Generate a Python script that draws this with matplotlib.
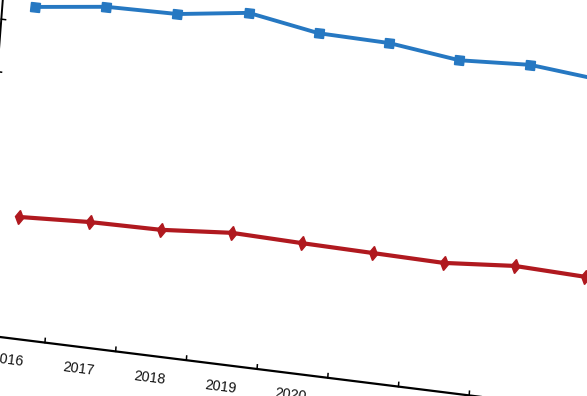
import numpy as np
import matplotlib
matplotlib.use('Agg')
import matplotlib.pyplot as plt
from matplotlib.transforms import Affine2D
from matplotlib.markers import MarkerStyle

years = ['2016', '2017', '2018', '2019', '2020', '2021', '2022', '2023', '2024']
upper_series = [63.1, 64.8, 65.1, 67.0, 64.8, 64.6, 63.0, 63.8, 62.6]
lower_series = [23.1, 23.8, 24.0, 25.1, 24.8, 24.6, 24.4, 25.5, 25.1]
y_ticks = [0, 10, 20, 30, 40, 50, 60]

W, H = 587, 396
fig = plt.figure(figsize=(W / 100, H / 100), dpi=100)
ax = fig.add_axes([0, 0, 1, 1])
ax.set_xlim(0, W)
ax.set_ylim(H, 0)
ax.axis('off')

# the chart is photographed at a slant: map (category index, value) onto the page
tilt = np.array([[70.7, 0.404, 9.6],
                 [8.8, -5.25, 338.2],
                 [0.0, 0.0, 1.0]])
T = Affine2D(tilt) + ax.transData

idx = np.arange(len(years))
x_left, x_right = -0.46, len(years) - 0.5

# axes lines
ax.plot([x_left, x_right], [0, 0], color='black', lw=1.6, transform=T, solid_capstyle='butt')
ax.plot([x_left, x_left], [0, 72], color='black', lw=1.4, transform=T, solid_capstyle='butt')

# x ticks sit between the categories, pointing up
for k in np.arange(0.5, len(years) - 0.5, 1.0):
    ax.plot([k, k], [0, 0.8], color='black', lw=1.1, transform=T)
for yt in y_ticks:
    ax.plot([x_left, x_left + 0.06], [yt, yt], color='black', lw=1.1, transform=T)

# category labels
for i, lab in zip(idx, years):
    ax.text(i, -4.2, lab, transform=T, ha='center', va='center', rotation=-7.1,
            rotation_mode='anchor', fontsize=10.3, family='Liberation Sans', color='#111111')

sq = MarkerStyle('s', transform=Affine2D().rotate_deg(-7))
dm = MarkerStyle('d', transform=Affine2D().rotate_deg(-7))

ax.plot(idx, upper_series, color='#2678c2', lw=2.8, marker=sq, ms=7,
        transform=T, zorder=3)
ax.plot(idx, lower_series, color='#b0191f', lw=3.0, marker=dm, ms=7.5,
        transform=T, zorder=3)

fig.savefig('out.png', dpi=100)
